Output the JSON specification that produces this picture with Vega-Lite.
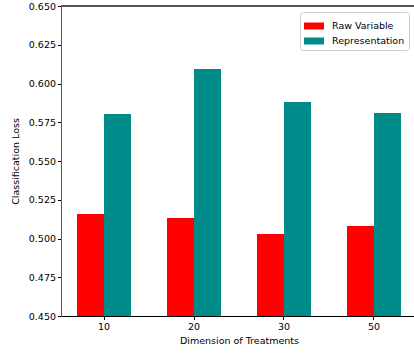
{
  "$schema": "https://vega.github.io/schema/vega-lite/v6.json",
  "autosize": "none",
  "padding": {"left": 61, "top": 6, "right": 0, "bottom": 42},
  "width": 353,
  "height": 310,
  "background": "white",
  "config": {
    "font": "DejaVu Sans",
    "view": {"stroke": "transparent", "strokeWidth": 0},
    "axis": {"labelFont": "DejaVu Sans", "titleFont": "DejaVu Sans", "labelColor": "#000", "titleColor": "#000", "tickColor": "#000", "domainColor": "#000", "grid": false, "labelFontSize": 9.5, "titleFontSize": 9.5, "titleFontWeight": "normal", "tickSize": 3.5}
  },
  "data": {
    "values": [
      {"dim": "10", "series": "Raw Variable", "loss": 0.5158},
      {"dim": "10", "series": "Representation", "loss": 0.5803},
      {"dim": "20", "series": "Raw Variable", "loss": 0.5132},
      {"dim": "20", "series": "Representation", "loss": 0.6094},
      {"dim": "30", "series": "Raw Variable", "loss": 0.5029},
      {"dim": "30", "series": "Representation", "loss": 0.5881},
      {"dim": "50", "series": "Raw Variable", "loss": 0.5081},
      {"dim": "50", "series": "Representation", "loss": 0.5810}
    ]
  },
  "layer": [
    {
      "mark": {"type": "bar"},
      "encoding": {
        "x": {
          "field": "dim", "type": "ordinal",
          "scale": {"paddingInner": 0.4, "paddingOuter": 0.178, "range": [0, 356]},
          "axis": {"title": "Dimension of Treatments", "labelAngle": 0, "labelPadding": 2, "titlePadding": 4, "domainWidth": 1.2, "titleX": 178}
        },
        "xOffset": {"field": "series", "type": "nominal", "scale": {"paddingInner": 0, "paddingOuter": 0}},
        "y": {
          "field": "loss", "type": "quantitative",
          "scale": {"domain": [0.45, 0.65], "zero": false, "nice": false},
          "axis": {"title": "Classification Loss", "values": [0.45, 0.475, 0.5, 0.525, 0.55, 0.575, 0.6, 0.625, 0.65], "format": ".3f", "labelPadding": 2, "titlePadding": 8, "domain": true, "domainColor": "#555"}
        },
        "y2": {"datum": 0.45},
        "color": {
          "field": "series", "type": "nominal",
          "scale": {"domain": ["Raw Variable", "Representation"], "range": ["#ff0000", "#008b8b"]},
          "legend": {
            "title": null, "orient": "none", "legendX": 239, "legendY": 6,
            "symbolType": "M-1,-0.35H1V0.35H-1Z", "symbolSize": 400, "symbolStrokeWidth": 0,
            "labelFont": "DejaVu Sans", "labelFontSize": 9.5, "labelColor": "#000", "labelOffset": 8,
            "strokeColor": "#ccc", "fillColor": "white", "cornerRadius": 3, "padding": 4, "rowPadding": 0
          }
        }
      }
    },
    {
      "mark": {"type": "rule", "color": "#555", "strokeWidth": 1},
      "encoding": {
        "y": {
          "datum": 0.65, "type": "quantitative",
          "scale": {"domain": [0.45, 0.65], "zero": false, "nice": false},
          "axis": {"title": "Classification Loss", "values": [0.45, 0.475, 0.5, 0.525, 0.55, 0.575, 0.6, 0.625, 0.65], "format": ".3f", "labelPadding": 2, "titlePadding": 8, "domain": true, "domainColor": "#555"}
        }
      }
    }
  ]
}
